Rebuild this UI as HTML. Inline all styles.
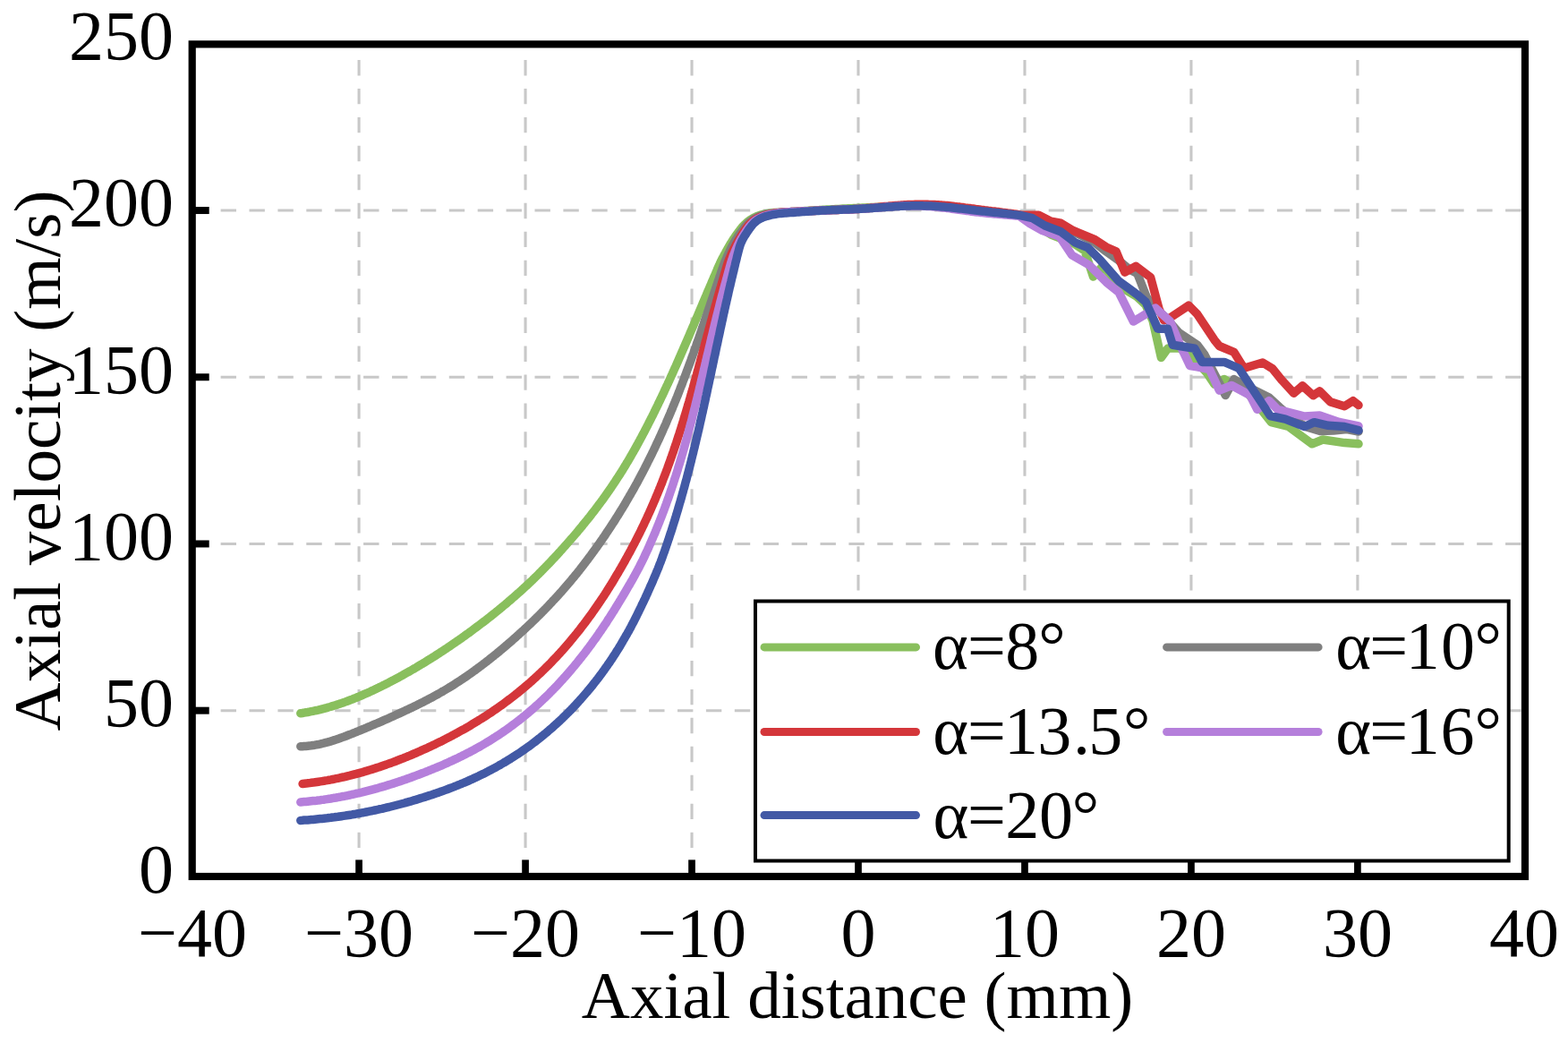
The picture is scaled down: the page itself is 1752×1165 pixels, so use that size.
<!DOCTYPE html>
<html><head><meta charset="utf-8"><title>Axial velocity vs axial distance</title>
<style>html,body{margin:0;padding:0;background:#fff;}svg{display:block;}</style>
</head><body>
<svg width="1752" height="1165" viewBox="0 0 1752 1165">
<rect width="100%" height="100%" fill="#fff"/>
<line x1="401.09" y1="979.0" x2="401.09" y2="49.4" stroke="#c8c8c8" stroke-width="3.1" stroke-dasharray="17.4 14.55"/>
<line x1="587.06" y1="979.0" x2="587.06" y2="49.4" stroke="#c8c8c8" stroke-width="3.1" stroke-dasharray="17.4 14.55"/>
<line x1="773.03" y1="979.0" x2="773.03" y2="49.4" stroke="#c8c8c8" stroke-width="3.1" stroke-dasharray="17.4 14.55"/>
<line x1="959.00" y1="979.0" x2="959.00" y2="49.4" stroke="#c8c8c8" stroke-width="3.1" stroke-dasharray="17.4 14.55"/>
<line x1="1144.97" y1="979.0" x2="1144.97" y2="49.4" stroke="#c8c8c8" stroke-width="3.1" stroke-dasharray="17.4 14.55"/>
<line x1="1330.94" y1="979.0" x2="1330.94" y2="49.4" stroke="#c8c8c8" stroke-width="3.1" stroke-dasharray="17.4 14.55"/>
<line x1="1516.91" y1="979.0" x2="1516.91" y2="49.4" stroke="#c8c8c8" stroke-width="3.1" stroke-dasharray="17.4 14.55"/>
<line x1="214.7" y1="793.68" x2="1704.0" y2="793.68" stroke="#c8c8c8" stroke-width="3.1" stroke-dasharray="17.4 14.5"/>
<line x1="214.7" y1="607.47" x2="1704.0" y2="607.47" stroke="#c8c8c8" stroke-width="3.1" stroke-dasharray="17.4 14.5"/>
<line x1="214.7" y1="421.25" x2="1704.0" y2="421.25" stroke="#c8c8c8" stroke-width="3.1" stroke-dasharray="17.4 14.5"/>
<line x1="214.7" y1="235.04" x2="1704.0" y2="235.04" stroke="#c8c8c8" stroke-width="3.1" stroke-dasharray="17.4 14.5"/>
<g fill="none" stroke-width="9.5" stroke-linecap="round" stroke-linejoin="round">
<path d="M335.8 796.8 L337.8 796.5 L339.7 796.1 L341.7 795.8 L343.7 795.5 L345.7 795.1 L347.6 794.7 L349.6 794.3 L351.5 793.9 L353.5 793.5 L355.4 793.1 L357.4 792.6 L359.3 792.1 L361.3 791.6 L363.2 791.1 L365.1 790.6 L367.0 790.0 L369.0 789.5 L370.9 788.9 L372.8 788.3 L374.7 787.7 L376.6 787.1 L378.5 786.5 L380.4 785.9 L382.3 785.2 L384.2 784.6 L386.1 783.9 L387.9 783.2 L389.8 782.5 L391.7 781.8 L393.6 781.1 L395.4 780.3 L397.3 779.6 L399.1 778.8 L401.0 778.1 L402.8 777.3 L404.7 776.5 L406.5 775.7 L408.3 774.9 L410.2 774.1 L412.0 773.3 L413.8 772.5 L415.6 771.6 L417.4 770.8 L419.2 769.9 L421.0 769.1 L422.8 768.2 L424.6 767.3 L426.4 766.5 L428.2 765.6 L430.0 764.7 L431.8 763.8 L433.6 762.9 L435.4 761.9 L437.1 761.0 L438.9 760.1 L440.7 759.1 L442.4 758.2 L444.2 757.3 L445.9 756.3 L447.7 755.3 L449.5 754.4 L451.2 753.4 L452.9 752.4 L454.7 751.4 L456.4 750.5 L458.2 749.5 L459.9 748.5 L461.6 747.5 L463.4 746.5 L465.1 745.5 L466.8 744.4 L468.5 743.4 L470.2 742.4 L472.0 741.4 L473.7 740.3 L475.4 739.3 L477.1 738.2 L478.8 737.2 L480.5 736.1 L482.2 735.1 L483.9 734.0 L485.6 732.9 L487.2 731.9 L488.9 730.8 L490.6 729.7 L492.3 728.6 L494.0 727.5 L495.6 726.4 L497.3 725.3 L499.0 724.2 L500.6 723.1 L502.3 722.0 L503.9 720.9 L505.6 719.7 L507.2 718.6 L508.9 717.5 L510.5 716.3 L512.2 715.2 L513.8 714.0 L515.5 712.9 L517.1 711.7 L518.7 710.6 L520.3 709.4 L522.0 708.2 L523.6 707.1 L525.2 705.9 L526.8 704.7 L528.4 703.5 L530.0 702.3 L531.6 701.1 L533.2 699.9 L534.8 698.7 L536.4 697.5 L538.0 696.3 L539.6 695.1 L541.2 693.9 L542.8 692.7 L544.4 691.4 L545.9 690.2 L547.5 689.0 L549.1 687.7 L550.6 686.5 L552.2 685.2 L553.8 684.0 L555.3 682.7 L556.9 681.5 L558.4 680.2 L560.0 678.9 L561.5 677.6 L563.0 676.4 L564.6 675.1 L566.1 673.8 L567.6 672.5 L569.1 671.2 L570.6 670.0 L572.0 668.7 L573.4 667.5 L574.8 666.3 L576.2 665.1 L577.5 663.9 L578.9 662.7 L580.3 661.5 L581.7 660.2 L583.1 658.9 L584.6 657.6 L586.0 656.3 L587.5 654.9 L589.0 653.6 L590.4 652.2 L591.9 650.8 L593.3 649.5 L594.8 648.1 L596.2 646.7 L597.6 645.3 L599.1 643.9 L600.5 642.5 L601.9 641.1 L603.3 639.7 L604.7 638.3 L606.1 636.8 L607.5 635.4 L608.9 634.0 L610.3 632.5 L611.7 631.1 L613.1 629.7 L614.5 628.2 L615.9 626.7 L617.2 625.3 L618.6 623.8 L620.0 622.4 L621.3 620.9 L622.7 619.4 L624.0 618.0 L625.4 616.5 L626.7 615.0 L628.1 613.5 L629.4 612.0 L630.7 610.5 L632.1 609.0 L633.4 607.5 L634.7 606.0 L636.0 604.5 L637.3 603.0 L638.7 601.5 L640.0 600.0 L641.3 598.5 L642.6 597.0 L643.9 595.5 L645.2 593.9 L646.4 592.4 L647.7 590.9 L649.0 589.3 L650.3 587.8 L651.5 586.2 L652.8 584.7 L654.1 583.1 L655.3 581.6 L656.6 580.0 L657.8 578.5 L659.1 576.9 L660.3 575.3 L661.5 573.7 L662.8 572.2 L664.0 570.6 L665.2 569.0 L666.4 567.4 L667.6 565.8 L668.8 564.2 L670.0 562.6 L671.2 561.0 L672.4 559.4 L673.6 557.8 L674.7 556.2 L675.9 554.5 L677.1 552.9 L678.2 551.3 L679.4 549.6 L680.5 548.0 L681.7 546.3 L682.8 544.7 L683.9 543.0 L685.0 541.4 L686.1 539.7 L687.2 538.1 L688.3 536.4 L689.4 534.7 L690.5 533.0 L691.6 531.3 L692.7 529.7 L693.7 528.0 L694.8 526.3 L695.9 524.6 L696.9 522.9 L698.0 521.2 L699.0 519.5 L700.0 517.7 L701.1 516.0 L702.1 514.3 L703.1 512.6 L704.1 510.9 L705.1 509.1 L706.1 507.4 L707.1 505.7 L708.1 503.9 L709.1 502.2 L710.1 500.4 L711.0 498.7 L712.0 496.9 L713.0 495.2 L713.9 493.4 L714.9 491.7 L715.8 489.9 L716.8 488.2 L717.7 486.4 L718.6 484.6 L719.6 482.9 L720.5 481.1 L721.4 479.3 L722.4 477.5 L723.3 475.8 L724.2 474.0 L725.1 472.2 L726.0 470.4 L726.9 468.6 L727.8 466.8 L728.7 465.1 L729.6 463.3 L730.5 461.5 L731.4 459.7 L732.2 457.9 L733.1 456.1 L734.0 454.3 L734.9 452.5 L735.7 450.7 L736.6 448.9 L737.5 447.1 L738.3 445.3 L739.2 443.5 L740.1 441.7 L740.9 439.9 L741.8 438.1 L742.6 436.2 L743.5 434.4 L744.3 432.6 L745.1 430.8 L746.0 429.0 L746.8 427.2 L747.7 425.4 L748.5 423.5 L749.3 421.7 L750.1 419.9 L751.0 418.1 L751.8 416.3 L752.6 414.4 L753.4 412.6 L754.2 410.8 L755.1 409.0 L755.9 407.1 L756.7 405.3 L757.5 403.5 L758.3 401.6 L759.1 399.8 L759.9 398.0 L760.7 396.1 L761.5 394.3 L762.3 392.5 L763.1 390.6 L763.9 388.8 L764.7 387.0 L765.5 385.1 L766.3 383.3 L767.1 381.5 L767.9 379.6 L768.7 377.8 L769.5 376.0 L770.3 374.1 L771.0 372.3 L771.8 370.4 L772.6 368.6 L773.4 366.8 L774.2 364.9 L775.0 363.1 L775.8 361.2 L776.5 359.4 L777.3 357.6 L778.1 355.7 L778.9 353.9 L779.7 352.0 L780.5 350.2 L781.2 348.4 L782.0 346.5 L782.8 344.7 L783.6 342.8 L784.4 341.0 L785.1 339.2 L785.9 337.3 L786.7 335.5 L787.5 333.6 L788.3 331.8 L789.1 330.0 L789.8 328.1 L790.6 326.3 L791.4 324.4 L792.2 322.6 L793.0 320.8 L793.8 318.9 L794.6 317.1 L795.3 315.2 L796.1 313.4 L796.9 311.6 L797.7 309.7 L798.5 307.9 L799.3 306.1 L800.1 304.2 L800.9 302.4 L801.6 300.5 L802.4 298.7 L803.2 296.9 L804.1 295.0 L804.9 293.2 L805.8 291.4 L806.6 289.6 L807.5 287.8 L808.5 286.1 L809.4 284.3 L810.4 282.6 L811.3 280.8 L812.3 279.1 L813.3 277.3 L814.3 275.6 L815.3 273.9 L816.3 272.2 L817.4 270.5 L818.4 268.8 L819.5 267.1 L820.7 265.4 L821.8 263.8 L822.9 262.2 L824.1 260.5 L825.3 258.9 L826.5 257.3 L827.7 255.7 L828.9 254.2 L830.2 252.7 L831.6 251.2 L833.0 249.9 L834.5 248.5 L836.0 247.3 L837.6 246.1 L839.3 245.0 L840.9 244.0 L842.7 243.1 L844.5 242.2 L846.3 241.4 L848.1 240.7 L850.0 240.1 L851.9 239.6 L853.8 239.1 L855.8 238.8 L857.8 238.5 L859.7 238.2 L861.7 238.0 L863.7 237.8 L865.7 237.6 L867.7 237.5 L869.7 237.4 L871.7 237.2 L873.7 237.1 L875.7 237.0 L877.7 236.9 L879.7 236.8 L881.7 236.7 L883.7 236.6 L885.7 236.4 L887.7 236.3 L889.7 236.2 L891.7 236.1 L893.7 235.9 L895.7 235.8 L897.6 235.7 L899.6 235.5 L901.6 235.4 L903.6 235.3 L905.6 235.2 L907.6 235.0 L909.6 234.9 L911.6 234.8 L913.6 234.7 L915.6 234.6 L917.6 234.4 L919.6 234.3 L921.6 234.2 L923.6 234.1 L925.6 234.0 L927.6 233.9 L929.6 233.8 L931.6 233.7 L933.6 233.6 L935.6 233.5 L937.6 233.4 L939.6 233.2 L941.6 233.1 L943.6 233.0 L945.6 232.9 L947.6 232.8 L949.6 232.7 L951.6 232.7 L953.6 232.6 L955.6 232.5 L957.6 232.4 L959.6 232.3 L961.6 232.2 L963.5 232.1 L965.5 232.0 L967.5 231.9 L969.5 231.8 L971.5 231.7 L973.5 231.6 L975.5 231.5 L977.5 231.5 L979.5 231.4 L981.5 231.3 L983.5 231.2 L985.5 231.1 L987.5 231.0 L989.5 230.9 L991.5 230.8 L993.5 230.7 L995.5 230.7 L997.5 230.6 L999.5 230.5 L1001.5 230.4 L1003.5 230.3 L1005.5 230.2 L1007.5 230.1 L1009.5 230.0 L1011.5 230.0 L1013.5 229.9 L1015.5 229.9 L1017.5 229.8 L1019.5 229.8 L1021.5 229.8 L1023.5 229.8 L1025.5 229.8 L1027.5 229.8 L1029.5 229.9 L1031.5 229.9 L1033.5 229.9 L1035.5 230.0 L1037.5 230.0 L1039.5 230.1 L1041.5 230.2 L1043.5 230.3 L1045.5 230.4 L1047.5 230.5 L1049.5 230.6 L1051.5 230.8 L1053.5 230.9 L1055.5 231.1 L1057.4 231.3 L1059.4 231.5 L1061.4 231.7 L1063.4 231.9 L1065.4 232.1 L1067.4 232.3 L1069.4 232.6 L1071.4 232.8 L1073.4 233.0 L1075.3 233.2 L1077.3 233.5 L1079.3 233.7 L1081.3 233.9 L1083.3 234.2 L1085.3 234.4 L1087.3 234.6 L1089.2 234.9 L1091.2 235.1 L1093.2 235.3 L1095.2 235.6 L1097.2 235.8 L1099.2 236.0 L1101.2 236.2 L1103.2 236.4 L1105.1 236.7 L1107.1 236.9 L1109.1 237.1 L1111.1 237.3 L1113.1 237.5 L1115.1 237.7 L1117.1 237.9 L1119.1 238.1 L1121.1 238.3 L1123.0 238.6 L1125.0 238.8 L1127.0 239.0 L1129.0 239.2 L1131.0 239.5 L1133.0 239.7 L1135.0 239.9 L1137.0 240.1 L1138.9 240.4 L1174.3 262.0 L1200.0 272.0 L1212.0 280.0 L1221.5 309.0 L1232.0 297.5 L1250.0 316.5 L1257.0 323.5 L1270.5 331.5 L1280.0 340.5 L1288.0 358.0 L1297.4 399.4 L1305.0 389.0 L1318.0 389.0 L1332.0 398.0 L1348.7 416.8 L1356.9 429.1 L1367.9 423.6 L1395.0 440.0 L1412.0 460.9 L1420.4 471.7 L1439.7 476.5 L1466.1 495.8 L1478.1 491.0 L1502.2 494.6 L1518.0 495.8" stroke="#89bf5d"/>
<path d="M335.8 833.8 L337.8 833.7 L339.8 833.5 L341.8 833.4 L343.8 833.2 L345.8 833.0 L347.7 832.8 L349.7 832.5 L351.7 832.2 L353.7 831.8 L355.6 831.5 L357.6 831.1 L359.5 830.6 L361.5 830.2 L363.4 829.7 L365.3 829.2 L367.3 828.6 L369.2 828.1 L371.1 827.5 L373.0 826.9 L374.9 826.3 L376.8 825.6 L378.7 825.0 L380.6 824.3 L382.5 823.6 L384.3 823.0 L386.2 822.3 L388.1 821.5 L389.9 820.8 L391.8 820.1 L393.7 819.4 L395.5 818.6 L397.4 817.9 L399.2 817.1 L401.1 816.4 L402.9 815.6 L404.8 814.8 L406.6 814.1 L408.5 813.3 L410.3 812.5 L412.2 811.8 L414.0 811.0 L415.9 810.2 L417.7 809.4 L419.5 808.6 L421.4 807.9 L423.2 807.1 L425.0 806.3 L426.9 805.5 L428.7 804.7 L430.5 803.9 L432.4 803.1 L434.2 802.3 L436.0 801.4 L437.9 800.6 L439.7 799.8 L441.5 799.0 L443.3 798.2 L445.1 797.3 L447.0 796.5 L448.8 795.7 L450.6 794.8 L452.4 794.0 L454.2 793.1 L456.0 792.3 L457.8 791.4 L459.6 790.6 L461.5 789.7 L463.3 788.8 L465.1 788.0 L466.8 787.1 L468.6 786.2 L470.4 785.3 L472.2 784.4 L474.0 783.5 L475.8 782.6 L477.6 781.7 L479.3 780.7 L481.1 779.8 L482.9 778.9 L484.6 777.9 L486.4 776.9 L488.1 776.0 L489.9 775.0 L491.6 774.0 L493.3 773.0 L495.1 772.0 L496.8 771.0 L498.5 770.0 L500.2 769.0 L502.0 767.9 L503.7 766.9 L505.4 765.8 L507.1 764.8 L508.7 763.7 L510.4 762.6 L512.1 761.5 L513.8 760.4 L515.4 759.3 L517.1 758.2 L518.8 757.1 L520.4 756.0 L522.1 754.8 L523.7 753.7 L525.3 752.6 L527.0 751.4 L528.6 750.2 L530.2 749.1 L531.8 747.9 L533.4 746.7 L535.1 745.5 L536.7 744.3 L538.3 743.1 L539.8 741.9 L541.4 740.7 L543.0 739.5 L544.6 738.2 L546.2 737.0 L547.7 735.8 L549.3 734.5 L550.9 733.3 L552.4 732.0 L554.0 730.8 L555.5 729.5 L557.1 728.2 L558.6 727.0 L560.1 725.7 L561.7 724.4 L563.2 723.1 L564.7 721.8 L566.3 720.5 L567.8 719.2 L569.3 717.9 L570.8 716.6 L572.3 715.3 L573.8 713.9 L575.3 712.6 L576.8 711.3 L578.3 709.9 L579.8 708.6 L581.2 707.3 L582.7 705.9 L584.2 704.6 L585.7 703.2 L587.1 701.8 L588.6 700.5 L590.0 699.1 L591.5 697.7 L592.9 696.4 L594.4 695.0 L595.8 693.6 L597.3 692.2 L598.7 690.8 L600.1 689.4 L601.6 688.0 L603.0 686.6 L604.4 685.2 L605.8 683.7 L607.2 682.3 L608.6 680.9 L610.0 679.5 L611.4 678.0 L612.8 676.6 L614.1 675.1 L615.5 673.7 L616.9 672.2 L618.2 670.7 L619.6 669.3 L621.0 667.8 L622.3 666.3 L623.7 664.9 L625.0 663.4 L626.3 661.9 L627.7 660.4 L629.0 658.9 L630.3 657.4 L631.6 655.9 L632.9 654.4 L634.2 652.9 L635.5 651.3 L636.8 649.8 L638.1 648.3 L639.4 646.7 L640.7 645.2 L641.9 643.7 L643.2 642.1 L644.5 640.6 L645.7 639.0 L647.0 637.4 L648.2 635.9 L649.4 634.3 L650.7 632.7 L651.9 631.1 L653.1 629.5 L654.3 628.0 L655.5 626.4 L656.7 624.8 L657.9 623.2 L659.1 621.6 L660.3 620.0 L661.5 618.3 L662.7 616.7 L663.9 615.1 L665.0 613.5 L666.2 611.9 L667.4 610.2 L668.5 608.6 L669.7 607.0 L670.8 605.3 L672.0 603.7 L673.1 602.1 L674.2 600.4 L675.4 598.8 L676.5 597.1 L677.6 595.4 L678.7 593.8 L679.8 592.1 L680.9 590.5 L682.0 588.8 L683.1 587.1 L684.2 585.4 L685.3 583.8 L686.4 582.1 L687.5 580.4 L688.5 578.7 L689.6 577.0 L690.7 575.3 L691.7 573.6 L692.8 571.9 L693.8 570.2 L694.9 568.5 L695.9 566.8 L696.9 565.1 L698.0 563.4 L699.0 561.6 L700.0 559.9 L701.0 558.2 L702.0 556.5 L703.0 554.7 L704.0 553.0 L705.0 551.3 L706.0 549.5 L707.0 547.8 L708.0 546.1 L709.0 544.3 L709.9 542.6 L710.9 540.8 L711.9 539.1 L712.8 537.3 L713.8 535.5 L714.7 533.8 L715.7 532.0 L716.6 530.2 L717.5 528.5 L718.5 526.7 L719.4 524.9 L720.3 523.2 L721.2 521.4 L722.1 519.6 L723.0 517.8 L723.9 516.0 L724.8 514.2 L725.7 512.5 L726.6 510.7 L727.5 508.9 L728.4 507.1 L729.2 505.3 L730.1 503.5 L731.0 501.7 L731.8 499.9 L732.7 498.1 L733.5 496.2 L734.4 494.4 L735.2 492.6 L736.1 490.8 L736.9 489.0 L737.7 487.2 L738.6 485.3 L739.4 483.5 L740.2 481.7 L741.0 479.9 L741.8 478.0 L742.7 476.2 L743.5 474.4 L744.3 472.6 L745.0 470.7 L745.8 468.9 L746.6 467.0 L747.4 465.2 L748.2 463.4 L749.0 461.5 L749.7 459.7 L750.5 457.8 L751.3 456.0 L752.0 454.1 L752.8 452.3 L753.6 450.4 L754.3 448.6 L755.1 446.7 L755.8 444.9 L756.6 443.0 L757.3 441.2 L758.0 439.3 L758.8 437.4 L759.5 435.6 L760.2 433.7 L760.9 431.8 L761.7 430.0 L762.4 428.1 L763.1 426.2 L763.8 424.4 L764.5 422.5 L765.2 420.6 L765.9 418.8 L766.6 416.9 L767.3 415.0 L768.0 413.1 L768.7 411.3 L769.4 409.4 L770.1 407.5 L770.8 405.6 L771.5 403.8 L772.2 401.9 L772.8 400.0 L773.5 398.1 L774.2 396.2 L774.9 394.4 L775.5 392.5 L776.2 390.6 L776.9 388.7 L777.6 386.8 L778.2 384.9 L778.9 383.0 L779.5 381.2 L780.2 379.3 L780.9 377.4 L781.5 375.5 L782.2 373.6 L782.8 371.7 L783.5 369.8 L784.1 367.9 L784.8 366.0 L785.4 364.1 L786.1 362.3 L786.7 360.4 L787.4 358.5 L788.0 356.6 L788.7 354.7 L789.3 352.8 L790.0 350.9 L790.6 349.0 L791.2 347.1 L791.9 345.2 L792.5 343.3 L793.2 341.4 L793.8 339.5 L794.4 337.6 L795.1 335.7 L795.7 333.8 L796.4 331.9 L797.0 330.1 L797.6 328.2 L798.3 326.3 L798.9 324.4 L799.6 322.5 L800.2 320.6 L800.8 318.7 L801.5 316.8 L802.1 314.9 L802.8 313.0 L803.4 311.1 L804.0 309.2 L804.7 307.3 L805.3 305.4 L806.0 303.5 L806.6 301.6 L807.3 299.7 L807.9 297.9 L808.6 296.0 L809.3 294.1 L810.0 292.2 L810.8 290.4 L811.6 288.6 L812.4 286.7 L813.2 284.9 L814.0 283.1 L814.9 281.3 L815.7 279.5 L816.6 277.7 L817.5 275.9 L818.5 274.1 L819.4 272.4 L820.4 270.6 L821.4 268.9 L822.5 267.2 L823.6 265.6 L824.7 263.9 L825.8 262.3 L827.0 260.6 L828.1 259.0 L829.3 257.4 L830.5 255.8 L831.7 254.2 L832.9 252.6 L834.2 251.2 L835.6 249.8 L837.0 248.4 L838.6 247.2 L840.2 246.0 L841.8 244.9 L843.5 243.9 L845.3 243.0 L847.1 242.2 L848.9 241.5 L850.8 240.8 L852.7 240.2 L854.6 239.7 L856.5 239.2 L858.5 238.8 L860.4 238.5 L862.4 238.2 L864.4 237.9 L866.4 237.7 L868.4 237.5 L870.4 237.4 L872.4 237.2 L874.4 237.1 L876.4 237.0 L878.3 236.9 L880.3 236.8 L882.3 236.7 L884.3 236.6 L886.3 236.5 L888.3 236.4 L890.3 236.3 L892.3 236.2 L894.3 236.1 L896.3 236.0 L898.3 235.9 L900.3 235.9 L902.3 235.8 L904.3 235.7 L906.3 235.6 L908.3 235.5 L910.3 235.4 L912.3 235.3 L914.3 235.2 L916.3 235.2 L918.3 235.1 L920.3 235.0 L922.3 234.9 L924.3 234.8 L926.3 234.8 L928.3 234.7 L930.3 234.6 L932.3 234.5 L934.3 234.5 L936.3 234.4 L938.3 234.3 L940.3 234.2 L942.3 234.2 L944.3 234.1 L946.3 234.0 L948.3 233.9 L950.3 233.8 L952.3 233.8 L954.3 233.7 L956.3 233.6 L958.3 233.5 L960.3 233.3 L962.3 233.2 L964.3 233.1 L966.3 233.0 L968.3 232.8 L970.3 232.7 L972.2 232.6 L974.2 232.4 L976.2 232.3 L978.2 232.1 L980.2 232.0 L982.2 231.8 L984.2 231.7 L986.2 231.6 L988.2 231.4 L990.2 231.3 L992.2 231.2 L994.2 231.0 L996.2 230.9 L998.2 230.8 L1000.2 230.6 L1002.2 230.5 L1004.2 230.4 L1006.2 230.3 L1008.2 230.2 L1010.2 230.1 L1012.2 230.0 L1014.2 229.9 L1016.2 229.9 L1018.2 229.8 L1020.2 229.8 L1022.2 229.8 L1024.2 229.8 L1026.2 229.8 L1028.2 229.8 L1030.2 229.8 L1032.2 229.9 L1034.2 229.9 L1036.2 230.0 L1038.2 230.0 L1040.1 230.1 L1042.1 230.2 L1044.1 230.3 L1046.1 230.4 L1048.1 230.5 L1050.1 230.7 L1052.1 230.8 L1054.1 231.0 L1056.1 231.2 L1058.1 231.4 L1060.1 231.6 L1062.1 231.8 L1064.1 232.0 L1066.1 232.2 L1068.0 232.4 L1070.0 232.6 L1072.0 232.9 L1074.0 233.1 L1076.0 233.3 L1078.0 233.5 L1080.0 233.8 L1082.0 234.0 L1083.9 234.2 L1085.9 234.5 L1087.9 234.7 L1089.9 235.0 L1091.9 235.2 L1093.9 235.4 L1095.9 235.6 L1097.8 235.9 L1099.8 236.1 L1101.8 236.3 L1103.8 236.5 L1105.8 236.7 L1107.8 236.9 L1109.8 237.1 L1111.8 237.3 L1113.8 237.6 L1115.7 237.8 L1117.7 238.0 L1119.7 238.2 L1121.7 238.4 L1123.7 238.6 L1125.7 238.8 L1127.7 239.1 L1129.7 239.3 L1131.6 239.5 L1133.6 239.8 L1135.6 240.0 L1137.6 240.2 L1139.6 240.5 L1174.0 248.5 L1200.0 259.0 L1222.0 270.0 L1236.0 281.0 L1250.0 291.0 L1262.0 301.0 L1270.8 305.5 L1281.0 331.6 L1290.0 343.0 L1301.7 354.0 L1317.1 371.4 L1337.7 385.2 L1345.9 396.2 L1369.3 441.5 L1378.9 423.6 L1400.0 435.0 L1418.0 444.1 L1430.0 455.0 L1445.0 468.0 L1460.0 477.0 L1475.0 481.5 L1490.0 481.0 L1505.0 479.5 L1518.0 482.0" stroke="#7f7f7f"/>
<path d="M338.1 875.5 L340.1 875.3 L342.1 875.1 L344.1 874.8 L346.0 874.6 L348.0 874.3 L350.0 874.1 L352.0 873.8 L354.0 873.5 L355.9 873.2 L357.9 872.9 L359.9 872.6 L361.9 872.3 L363.8 871.9 L365.8 871.6 L367.8 871.2 L369.7 870.9 L371.7 870.5 L373.7 870.1 L375.6 869.7 L377.6 869.3 L379.5 868.9 L381.5 868.4 L383.4 868.0 L385.4 867.6 L387.3 867.1 L389.3 866.6 L391.2 866.2 L393.2 865.7 L395.1 865.2 L397.0 864.7 L399.0 864.1 L400.9 863.6 L402.8 863.1 L404.8 862.6 L406.7 862.0 L408.6 861.4 L410.5 860.9 L412.4 860.3 L414.3 859.7 L416.3 859.1 L418.2 858.5 L420.1 857.9 L422.0 857.3 L423.9 856.7 L425.8 856.0 L427.7 855.4 L429.5 854.7 L431.4 854.1 L433.3 853.4 L435.2 852.7 L437.1 852.1 L439.0 851.4 L440.8 850.7 L442.7 850.0 L444.6 849.2 L446.4 848.5 L448.3 847.8 L450.2 847.1 L452.0 846.3 L453.9 845.6 L455.7 844.8 L457.6 844.1 L459.4 843.3 L461.3 842.5 L463.1 841.7 L464.9 841.0 L466.8 840.2 L468.6 839.4 L470.4 838.5 L472.3 837.7 L474.1 836.9 L475.9 836.1 L477.7 835.3 L479.6 834.4 L481.4 833.6 L483.2 832.7 L485.0 831.9 L486.8 831.0 L488.6 830.1 L490.4 829.2 L492.2 828.4 L494.0 827.5 L495.7 826.6 L497.5 825.7 L499.3 824.7 L501.1 823.8 L502.9 822.9 L504.6 822.0 L506.4 821.0 L508.2 820.1 L509.9 819.1 L511.7 818.2 L513.4 817.2 L515.2 816.2 L516.9 815.3 L518.7 814.3 L520.4 813.3 L522.1 812.3 L523.9 811.3 L525.6 810.3 L527.3 809.2 L529.0 808.2 L530.7 807.2 L532.4 806.1 L534.1 805.1 L535.8 804.0 L537.5 803.0 L539.2 801.9 L540.9 800.8 L542.6 799.8 L544.3 798.7 L545.9 797.6 L547.6 796.5 L549.3 795.4 L550.9 794.2 L552.6 793.1 L554.2 792.0 L555.9 790.8 L557.5 789.7 L559.1 788.5 L560.8 787.4 L562.4 786.2 L564.0 785.0 L565.6 783.8 L567.2 782.6 L568.8 781.4 L570.4 780.2 L572.0 779.0 L573.6 777.8 L575.1 776.6 L576.7 775.3 L578.3 774.1 L579.8 772.8 L581.4 771.5 L582.9 770.3 L584.5 769.0 L586.0 767.7 L587.5 766.4 L589.0 765.1 L590.6 763.8 L592.1 762.5 L593.6 761.2 L595.1 759.8 L596.5 758.5 L598.0 757.2 L599.5 755.8 L601.0 754.4 L602.4 753.1 L603.9 751.7 L605.3 750.3 L606.8 748.9 L608.2 747.5 L609.6 746.1 L611.0 744.7 L612.5 743.3 L613.9 741.9 L615.3 740.5 L616.7 739.0 L618.0 737.6 L619.4 736.1 L620.8 734.7 L622.2 733.2 L623.5 731.8 L624.9 730.3 L626.2 728.8 L627.6 727.3 L628.9 725.8 L630.2 724.3 L631.5 722.8 L632.8 721.3 L634.1 719.8 L635.4 718.3 L636.7 716.8 L638.0 715.2 L639.3 713.7 L640.6 712.1 L641.8 710.6 L643.1 709.0 L644.4 707.5 L645.6 705.9 L646.9 704.4 L648.1 702.8 L649.3 701.2 L650.5 699.6 L651.8 698.0 L653.0 696.4 L654.2 694.8 L655.4 693.2 L656.6 691.6 L657.7 690.0 L658.9 688.4 L660.1 686.8 L661.3 685.2 L662.4 683.5 L663.6 681.9 L664.7 680.3 L665.9 678.6 L667.0 677.0 L668.1 675.3 L669.2 673.7 L670.3 672.1 L671.4 670.5 L672.5 668.8 L673.6 667.3 L674.6 665.7 L675.7 664.1 L676.7 662.5 L677.7 660.9 L678.8 659.2 L679.8 657.6 L680.9 655.9 L681.9 654.2 L683.0 652.5 L684.0 650.8 L685.1 649.1 L686.1 647.4 L687.1 645.6 L688.1 643.9 L689.2 642.2 L690.2 640.5 L691.2 638.8 L692.2 637.0 L693.2 635.3 L694.2 633.6 L695.2 631.8 L696.2 630.1 L697.2 628.4 L698.2 626.6 L699.1 624.9 L700.1 623.1 L701.1 621.4 L702.0 619.6 L703.0 617.9 L704.0 616.1 L704.9 614.4 L705.8 612.6 L706.8 610.8 L707.7 609.1 L708.7 607.3 L709.6 605.5 L710.5 603.7 L711.4 602.0 L712.3 600.2 L713.2 598.4 L714.1 596.6 L715.0 594.8 L715.9 593.0 L716.8 591.2 L717.6 589.4 L718.5 587.6 L719.4 585.8 L720.2 584.0 L721.1 582.2 L721.9 580.4 L722.8 578.6 L723.6 576.8 L724.4 574.9 L725.3 573.1 L726.1 571.3 L726.9 569.5 L727.7 567.6 L728.5 565.8 L729.3 564.0 L730.1 562.1 L730.9 560.3 L731.7 558.5 L732.5 556.6 L733.2 554.8 L734.0 552.9 L734.8 551.1 L735.5 549.2 L736.3 547.4 L737.0 545.5 L737.8 543.7 L738.5 541.8 L739.3 540.0 L740.0 538.1 L740.7 536.2 L741.4 534.4 L742.1 532.5 L742.9 530.6 L743.6 528.8 L744.3 526.9 L745.0 525.0 L745.7 523.1 L746.3 521.3 L747.0 519.4 L747.7 517.5 L748.4 515.6 L749.1 513.7 L749.7 511.8 L750.4 510.0 L751.0 508.1 L751.7 506.2 L752.4 504.3 L753.0 502.4 L753.6 500.5 L754.3 498.6 L754.9 496.7 L755.6 494.8 L756.2 492.9 L756.8 491.0 L757.4 489.1 L758.0 487.2 L758.7 485.3 L759.3 483.4 L759.9 481.5 L760.5 479.6 L761.1 477.7 L761.7 475.8 L762.3 473.9 L762.9 472.0 L763.5 470.0 L764.0 468.1 L764.6 466.2 L765.2 464.3 L765.8 462.4 L766.4 460.5 L766.9 458.6 L767.5 456.6 L768.1 454.7 L768.6 452.8 L769.2 450.9 L769.8 449.0 L770.3 447.0 L770.9 445.1 L771.4 443.2 L772.0 441.3 L772.5 439.4 L773.1 437.4 L773.6 435.5 L774.2 433.6 L774.7 431.7 L775.3 429.7 L775.8 427.8 L776.3 425.9 L776.9 424.0 L777.4 422.0 L777.9 420.1 L778.5 418.2 L779.0 416.2 L779.5 414.3 L780.1 412.4 L780.6 410.5 L781.1 408.5 L781.6 406.6 L782.2 404.7 L782.7 402.7 L783.2 400.8 L783.7 398.9 L784.3 397.0 L784.8 395.0 L785.3 393.1 L785.8 391.2 L786.4 389.2 L786.9 387.3 L787.4 385.4 L787.9 383.4 L788.4 381.5 L789.0 379.6 L789.5 377.6 L790.0 375.7 L790.5 373.8 L791.1 371.9 L791.6 369.9 L792.1 368.0 L792.6 366.1 L793.2 364.1 L793.7 362.2 L794.2 360.3 L794.7 358.3 L795.3 356.4 L795.8 354.5 L796.3 352.6 L796.9 350.6 L797.4 348.7 L797.9 346.8 L798.5 344.8 L799.0 342.9 L799.5 341.0 L800.1 339.1 L800.6 337.1 L801.1 335.2 L801.7 333.3 L802.2 331.4 L802.8 329.4 L803.3 327.5 L803.9 325.6 L804.4 323.7 L805.0 321.8 L805.6 319.8 L806.1 317.9 L806.7 316.0 L807.2 314.1 L807.8 312.2 L808.4 310.2 L808.9 308.3 L809.5 306.4 L810.0 304.5 L810.6 302.6 L811.1 300.6 L811.7 298.7 L812.3 296.8 L812.8 294.9 L813.5 293.0 L814.1 291.1 L814.9 289.3 L815.6 287.4 L816.4 285.6 L817.2 283.7 L818.0 281.9 L818.9 280.1 L819.8 278.3 L820.7 276.6 L821.6 274.8 L822.5 273.0 L823.5 271.3 L824.5 269.5 L825.5 267.8 L826.5 266.1 L827.6 264.4 L828.7 262.7 L829.7 261.0 L830.8 259.4 L831.9 257.7 L833.1 256.1 L834.2 254.4 L835.4 252.9 L836.7 251.3 L838.0 249.9 L839.4 248.6 L841.0 247.3 L842.5 246.2 L844.2 245.1 L845.9 244.1 L847.7 243.2 L849.5 242.4 L851.3 241.7 L853.2 241.1 L855.1 240.5 L857.0 239.9 L859.0 239.4 L860.9 239.0 L862.9 238.6 L864.8 238.3 L866.8 238.0 L868.8 237.7 L870.8 237.5 L872.8 237.3 L874.8 237.2 L876.8 237.0 L878.7 236.9 L880.7 236.8 L882.7 236.7 L884.7 236.6 L886.7 236.5 L888.7 236.4 L890.7 236.3 L892.7 236.2 L894.7 236.1 L896.7 236.0 L898.7 235.9 L900.7 235.8 L902.7 235.7 L904.7 235.6 L906.7 235.6 L908.7 235.5 L910.7 235.4 L912.7 235.3 L914.7 235.2 L916.7 235.1 L918.7 235.1 L920.7 235.0 L922.7 234.9 L924.7 234.8 L926.7 234.8 L928.7 234.7 L930.7 234.6 L932.7 234.5 L934.7 234.5 L936.7 234.4 L938.7 234.3 L940.7 234.3 L942.7 234.2 L944.7 234.1 L946.7 234.0 L948.7 234.0 L950.7 233.9 L952.7 233.8 L954.7 233.6 L956.7 233.5 L958.7 233.4 L960.7 233.3 L962.7 233.1 L964.7 232.9 L966.6 232.8 L968.6 232.6 L970.6 232.4 L972.6 232.2 L974.6 232.0 L976.6 231.8 L978.6 231.6 L980.6 231.4 L982.6 231.2 L984.6 231.0 L986.5 230.8 L988.5 230.6 L990.5 230.4 L992.5 230.3 L994.5 230.1 L996.5 229.9 L998.5 229.7 L1000.5 229.5 L1002.5 229.4 L1004.5 229.2 L1006.5 229.1 L1008.5 228.9 L1010.5 228.8 L1012.5 228.7 L1014.5 228.6 L1016.4 228.5 L1018.4 228.4 L1020.4 228.4 L1022.4 228.3 L1024.4 228.3 L1026.4 228.3 L1028.4 228.3 L1030.4 228.3 L1032.4 228.3 L1034.4 228.3 L1036.4 228.3 L1038.4 228.4 L1040.4 228.4 L1042.4 228.5 L1044.4 228.6 L1046.4 228.7 L1048.4 228.8 L1050.4 228.9 L1052.4 229.1 L1054.4 229.2 L1056.4 229.4 L1058.4 229.6 L1060.4 229.8 L1062.4 230.0 L1064.4 230.2 L1066.3 230.5 L1068.3 230.7 L1070.3 230.9 L1072.3 231.1 L1074.3 231.4 L1076.3 231.6 L1078.3 231.9 L1080.2 232.1 L1082.2 232.4 L1084.2 232.6 L1086.2 232.9 L1088.2 233.1 L1090.2 233.4 L1092.1 233.6 L1094.1 233.9 L1096.1 234.2 L1098.1 234.4 L1100.1 234.7 L1102.1 234.9 L1104.1 235.2 L1106.0 235.4 L1108.0 235.7 L1110.0 235.9 L1112.0 236.1 L1114.0 236.4 L1116.0 236.6 L1117.9 236.9 L1119.9 237.2 L1121.9 237.4 L1123.9 237.7 L1125.9 238.0 L1127.9 238.2 L1129.8 238.5 L1131.8 238.8 L1133.8 239.1 L1135.8 239.3 L1137.8 239.6 L1139.7 239.9 L1160.6 240.3 L1174.3 247.2 L1185.3 249.2 L1199.0 257.5 L1222.4 267.1 L1236.2 276.0 L1247.1 280.8 L1256.8 304.2 L1269.1 297.3 L1285.6 309.7 L1295.1 345.3 L1300.6 357.7 L1307.5 354.9 L1328.1 341.2 L1337.7 350.8 L1356.9 379.7 L1362.4 386.5 L1378.9 393.4 L1389.9 411.3 L1410.8 405.0 L1421.6 411.6 L1432.5 424.9 L1445.7 439.3 L1455.3 430.9 L1467.3 441.7 L1474.5 436.9 L1486.5 448.9 L1502.2 453.7 L1511.8 447.7 L1518.0 452.5" stroke="#d4363a"/>
<path d="M335.8 896.0 L337.8 895.8 L339.8 895.6 L341.8 895.4 L343.8 895.2 L345.8 895.0 L347.7 894.8 L349.7 894.6 L351.7 894.4 L353.7 894.2 L355.7 893.9 L357.7 893.7 L359.7 893.4 L361.6 893.2 L363.6 892.9 L365.6 892.6 L367.6 892.3 L369.6 892.0 L371.5 891.6 L373.5 891.3 L375.5 891.0 L377.4 890.6 L379.4 890.3 L381.4 889.9 L383.3 889.5 L385.3 889.2 L387.3 888.8 L389.2 888.4 L391.2 888.0 L393.1 887.5 L395.1 887.1 L397.0 886.7 L399.0 886.2 L400.9 885.8 L402.9 885.3 L404.8 884.9 L406.8 884.4 L408.7 883.9 L410.7 883.4 L412.6 882.9 L414.5 882.4 L416.5 881.9 L418.4 881.4 L420.3 880.8 L422.2 880.3 L424.2 879.7 L426.1 879.2 L428.0 878.6 L429.9 878.1 L431.8 877.5 L433.7 876.9 L435.7 876.3 L437.6 875.7 L439.5 875.1 L441.4 874.5 L443.3 873.9 L445.2 873.2 L447.1 872.6 L449.0 872.0 L450.9 871.3 L452.8 870.7 L454.6 870.0 L456.5 869.4 L458.4 868.7 L460.3 868.0 L462.2 867.3 L464.1 866.6 L465.9 865.9 L467.8 865.2 L469.7 864.5 L471.5 863.8 L473.4 863.1 L475.3 862.4 L477.1 861.6 L479.0 860.9 L480.8 860.1 L482.7 859.4 L484.5 858.6 L486.4 857.9 L488.2 857.1 L490.1 856.3 L491.9 855.6 L493.8 854.8 L495.6 854.0 L497.4 853.2 L499.3 852.4 L501.1 851.5 L502.9 850.7 L504.7 849.9 L506.5 849.0 L508.4 848.2 L510.2 847.3 L512.0 846.5 L513.8 845.6 L515.6 844.7 L517.3 843.8 L519.1 842.9 L520.9 842.0 L522.7 841.1 L524.5 840.2 L526.2 839.3 L528.0 838.3 L529.8 837.4 L531.5 836.4 L533.3 835.4 L535.0 834.5 L536.8 833.5 L538.5 832.5 L540.2 831.5 L541.9 830.5 L543.7 829.4 L545.4 828.4 L547.1 827.4 L548.8 826.3 L550.5 825.2 L552.2 824.2 L553.8 823.1 L555.5 822.0 L557.2 820.9 L558.9 819.8 L560.5 818.7 L562.2 817.6 L563.8 816.4 L565.4 815.3 L567.1 814.1 L568.7 813.0 L570.3 811.8 L571.9 810.6 L573.5 809.4 L575.1 808.2 L576.7 807.0 L578.3 805.8 L579.9 804.6 L581.5 803.3 L583.0 802.1 L584.6 800.8 L586.1 799.6 L587.7 798.3 L589.2 797.0 L590.8 795.7 L592.3 794.4 L593.8 793.1 L595.3 791.8 L596.8 790.5 L598.3 789.2 L599.8 787.8 L601.3 786.5 L602.8 785.1 L604.2 783.8 L605.7 782.4 L607.1 781.0 L608.6 779.7 L610.0 778.3 L611.5 776.9 L612.9 775.5 L614.3 774.1 L615.7 772.6 L617.1 771.2 L618.5 769.8 L619.9 768.3 L621.3 766.9 L622.7 765.4 L624.0 764.0 L625.4 762.5 L626.7 761.1 L628.1 759.6 L629.4 758.1 L630.8 756.6 L632.1 755.1 L633.4 753.6 L634.7 752.1 L636.0 750.6 L637.3 749.1 L638.6 747.6 L639.9 746.0 L641.2 744.5 L642.5 742.9 L643.8 741.4 L645.0 739.9 L646.3 738.3 L647.5 736.7 L648.8 735.2 L650.0 733.6 L651.2 732.0 L652.5 730.4 L653.7 728.9 L654.9 727.3 L656.1 725.7 L657.3 724.1 L658.5 722.5 L659.7 720.9 L660.9 719.3 L662.1 717.6 L663.2 716.0 L664.4 714.4 L665.6 712.8 L666.7 711.1 L667.9 709.5 L669.0 707.9 L670.1 706.2 L671.3 704.6 L672.4 702.9 L673.5 701.3 L674.6 699.6 L675.7 697.9 L676.9 696.3 L678.0 694.6 L679.0 692.9 L680.1 691.2 L681.2 689.6 L682.3 687.9 L683.4 686.2 L684.4 684.5 L685.5 682.8 L686.6 681.1 L687.6 679.4 L688.7 677.7 L689.7 676.0 L690.7 674.3 L691.7 672.7 L692.7 671.0 L693.7 669.4 L694.6 667.8 L695.6 666.3 L696.5 664.8 L697.4 663.3 L698.3 661.7 L699.2 660.2 L700.1 658.6 L701.1 656.9 L702.1 655.2 L703.1 653.5 L704.1 651.8 L705.1 650.0 L706.1 648.3 L707.1 646.6 L708.0 644.8 L709.0 643.1 L710.0 641.3 L710.9 639.6 L711.9 637.8 L712.8 636.1 L713.8 634.3 L714.7 632.5 L715.6 630.7 L716.5 628.9 L717.4 627.1 L718.3 625.4 L719.1 623.6 L720.0 621.8 L720.8 619.9 L721.7 618.1 L722.5 616.3 L723.4 614.5 L724.2 612.7 L725.0 610.9 L725.8 609.0 L726.6 607.2 L727.4 605.4 L728.2 603.5 L729.0 601.7 L729.8 599.9 L730.6 598.0 L731.4 596.2 L732.2 594.3 L732.9 592.5 L733.7 590.6 L734.4 588.8 L735.2 586.9 L735.9 585.1 L736.7 583.2 L737.4 581.4 L738.1 579.5 L738.9 577.6 L739.6 575.8 L740.3 573.9 L741.0 572.0 L741.7 570.2 L742.4 568.3 L743.1 566.4 L743.8 564.5 L744.5 562.6 L745.1 560.8 L745.8 558.9 L746.5 557.0 L747.2 555.1 L747.8 553.2 L748.5 551.3 L749.1 549.4 L749.8 547.5 L750.4 545.7 L751.0 543.8 L751.7 541.9 L752.3 540.0 L752.9 538.1 L753.5 536.2 L754.1 534.3 L754.8 532.3 L755.4 530.4 L756.0 528.5 L756.6 526.6 L757.2 524.7 L757.7 522.8 L758.3 520.9 L758.9 519.0 L759.5 517.1 L760.1 515.1 L760.6 513.2 L761.2 511.3 L761.8 509.4 L762.3 507.5 L762.9 505.6 L763.4 503.6 L764.0 501.7 L764.5 499.8 L765.1 497.9 L765.6 495.9 L766.1 494.0 L766.7 492.1 L767.2 490.2 L767.7 488.2 L768.3 486.3 L768.8 484.4 L769.3 482.4 L769.8 480.5 L770.3 478.6 L770.8 476.6 L771.3 474.7 L771.8 472.8 L772.4 470.8 L772.9 468.9 L773.4 467.0 L773.8 465.0 L774.3 463.1 L774.8 461.1 L775.3 459.2 L775.8 457.3 L776.3 455.3 L776.8 453.4 L777.3 451.4 L777.7 449.5 L778.2 447.6 L778.7 445.6 L779.2 443.7 L779.7 441.7 L780.1 439.8 L780.6 437.8 L781.1 435.9 L781.5 434.0 L782.0 432.0 L782.5 430.1 L782.9 428.1 L783.4 426.2 L783.9 424.2 L784.3 422.3 L784.8 420.3 L785.3 418.4 L785.7 416.4 L786.2 414.5 L786.6 412.6 L787.1 410.6 L787.6 408.7 L788.0 406.7 L788.5 404.8 L788.9 402.8 L789.4 400.9 L789.9 398.9 L790.3 397.0 L790.8 395.0 L791.3 393.1 L791.7 391.1 L792.2 389.2 L792.6 387.3 L793.1 385.3 L793.6 383.4 L794.0 381.4 L794.5 379.5 L795.0 377.5 L795.4 375.6 L795.9 373.6 L796.4 371.7 L796.8 369.7 L797.3 367.8 L797.8 365.9 L798.2 363.9 L798.7 362.0 L799.2 360.0 L799.7 358.1 L800.1 356.1 L800.6 354.2 L801.1 352.3 L801.6 350.3 L802.1 348.4 L802.6 346.4 L803.1 344.5 L803.6 342.6 L804.0 340.6 L804.5 338.7 L805.0 336.8 L805.5 334.8 L806.0 332.9 L806.5 330.9 L807.1 329.0 L807.6 327.1 L808.1 325.1 L808.6 323.2 L809.1 321.3 L809.6 319.4 L810.2 317.4 L810.7 315.5 L811.2 313.6 L811.7 311.6 L812.3 309.7 L812.8 307.8 L813.3 305.8 L813.8 303.9 L814.4 302.0 L814.9 300.1 L815.4 298.1 L816.0 296.2 L816.5 294.3 L817.1 292.4 L817.7 290.5 L818.4 288.6 L819.0 286.7 L819.7 284.8 L820.5 283.0 L821.2 281.1 L822.0 279.3 L822.8 277.4 L823.6 275.6 L824.4 273.8 L825.3 272.0 L826.2 270.2 L827.1 268.5 L828.1 266.7 L829.2 265.0 L830.2 263.3 L831.3 261.7 L832.4 260.0 L833.5 258.3 L834.6 256.7 L835.8 255.0 L836.9 253.4 L838.2 251.9 L839.5 250.4 L840.8 249.0 L842.3 247.7 L843.8 246.5 L845.4 245.4 L847.1 244.4 L848.9 243.5 L850.7 242.7 L852.5 242.0 L854.4 241.3 L856.3 240.7 L858.2 240.2 L860.2 239.7 L862.1 239.2 L864.1 238.8 L866.0 238.5 L868.0 238.1 L870.0 237.8 L872.0 237.6 L873.9 237.4 L875.9 237.2 L877.9 237.0 L879.9 236.9 L881.9 236.7 L883.9 236.6 L885.9 236.5 L887.9 236.4 L889.9 236.3 L891.9 236.2 L893.9 236.1 L895.9 236.0 L897.9 235.9 L899.9 235.8 L901.9 235.8 L903.9 235.7 L905.9 235.6 L907.9 235.5 L909.9 235.4 L911.9 235.3 L913.9 235.3 L915.9 235.2 L917.9 235.1 L919.9 235.0 L921.9 234.9 L923.9 234.9 L925.9 234.8 L927.9 234.7 L929.9 234.6 L931.9 234.5 L933.9 234.5 L935.9 234.4 L937.9 234.3 L939.9 234.3 L941.9 234.2 L943.9 234.1 L945.9 234.0 L947.9 233.9 L949.9 233.9 L951.8 233.8 L953.8 233.7 L955.8 233.6 L957.8 233.5 L959.8 233.4 L961.8 233.3 L963.8 233.1 L965.8 233.0 L967.8 232.9 L969.8 232.7 L971.8 232.6 L973.8 232.5 L975.8 232.3 L977.8 232.2 L979.8 232.0 L981.8 231.9 L983.8 231.7 L985.8 231.6 L987.8 231.5 L989.8 231.3 L991.8 231.2 L993.8 231.0 L995.8 230.9 L997.7 230.8 L999.7 230.6 L1001.7 230.5 L1003.7 230.4 L1005.7 230.3 L1007.7 230.2 L1009.7 230.1 L1011.7 230.0 L1013.7 229.9 L1015.7 229.9 L1017.7 229.9 L1019.7 229.9 L1021.7 229.9 L1023.7 229.9 L1025.7 230.0 L1027.7 230.0 L1029.7 230.1 L1031.7 230.2 L1033.7 230.3 L1035.7 230.4 L1037.7 230.5 L1039.7 230.6 L1041.7 230.8 L1043.7 230.9 L1045.7 231.1 L1047.7 231.3 L1049.7 231.5 L1051.6 231.7 L1053.6 231.9 L1055.6 232.1 L1057.6 232.4 L1059.6 232.6 L1061.6 232.9 L1063.6 233.2 L1065.5 233.5 L1067.5 233.7 L1069.5 234.0 L1071.5 234.3 L1073.5 234.6 L1075.4 234.8 L1077.4 235.1 L1079.4 235.4 L1081.4 235.6 L1083.4 235.9 L1085.3 236.2 L1087.3 236.4 L1089.3 236.7 L1091.3 236.9 L1093.3 237.1 L1095.3 237.4 L1097.3 237.6 L1099.3 237.8 L1101.2 238.0 L1103.2 238.2 L1105.2 238.4 L1107.2 238.6 L1109.2 238.7 L1111.2 238.9 L1113.2 239.1 L1115.2 239.3 L1117.2 239.4 L1119.2 239.6 L1121.2 239.8 L1123.2 239.9 L1125.1 240.1 L1127.1 240.3 L1129.1 240.4 L1131.1 240.6 L1133.1 240.8 L1135.1 240.9 L1137.1 241.1 L1139.1 241.3 L1151.0 249.9 L1164.7 257.5 L1184.0 264.3 L1197.7 285.0 L1216.9 296.0 L1236.2 315.2 L1249.9 326.2 L1266.4 359.1 L1280.1 350.9 L1291.0 344.0 L1307.5 359.1 L1318.5 385.2 L1329.5 408.5 L1337.7 409.9 L1351.4 412.6 L1362.4 436.0 L1376.2 430.5 L1396.8 441.5 L1404.8 457.3 L1418.0 447.7 L1427.6 457.3 L1457.7 465.0 L1474.5 464.0 L1496.2 471.5 L1518.0 476.0" stroke="#b57fdb"/>
<path d="M335.8 916.4 L337.8 916.3 L339.8 916.1 L341.8 916.0 L343.8 915.9 L345.8 915.7 L347.8 915.5 L349.8 915.4 L351.8 915.2 L353.7 915.0 L355.7 914.8 L357.7 914.6 L359.7 914.4 L361.7 914.2 L363.7 914.0 L365.7 913.8 L367.7 913.5 L369.6 913.3 L371.6 913.0 L373.6 912.8 L375.6 912.5 L377.6 912.3 L379.6 912.0 L381.5 911.7 L383.5 911.4 L385.5 911.1 L387.5 910.8 L389.5 910.5 L391.4 910.2 L393.4 909.9 L395.4 909.5 L397.3 909.2 L399.3 908.8 L401.3 908.5 L403.2 908.1 L405.2 907.8 L407.2 907.4 L409.1 907.0 L411.1 906.6 L413.1 906.2 L415.0 905.8 L417.0 905.4 L418.9 905.0 L420.9 904.6 L422.8 904.2 L424.8 903.7 L426.8 903.3 L428.7 902.8 L430.6 902.4 L432.6 901.9 L434.5 901.5 L436.5 901.0 L438.4 900.5 L440.4 900.0 L442.3 899.5 L444.2 899.0 L446.2 898.5 L448.1 898.0 L450.0 897.5 L452.0 897.0 L453.9 896.4 L455.8 895.9 L457.7 895.3 L459.7 894.8 L461.6 894.2 L463.5 893.7 L465.4 893.1 L467.3 892.5 L469.2 891.9 L471.2 891.3 L473.1 890.7 L475.0 890.1 L476.9 889.5 L478.8 888.9 L480.7 888.3 L482.6 887.7 L484.5 887.0 L486.4 886.4 L488.3 885.7 L490.2 885.1 L492.0 884.4 L493.9 883.8 L495.8 883.1 L497.7 882.4 L499.6 881.7 L501.4 881.0 L503.3 880.3 L505.2 879.6 L507.0 878.9 L508.9 878.1 L510.8 877.4 L512.6 876.6 L514.5 875.9 L516.3 875.1 L518.2 874.4 L520.0 873.6 L521.8 872.8 L523.7 872.0 L525.5 871.2 L527.3 870.4 L529.1 869.5 L531.0 868.7 L532.8 867.8 L534.6 867.0 L536.4 866.1 L538.2 865.2 L540.0 864.4 L541.8 863.5 L543.5 862.6 L545.3 861.7 L547.1 860.7 L548.9 859.8 L550.6 858.9 L552.4 857.9 L554.2 857.0 L555.9 856.0 L557.6 855.0 L559.4 854.0 L561.1 853.0 L562.8 852.0 L564.6 851.0 L566.3 849.9 L568.0 848.9 L569.7 847.9 L571.4 846.8 L573.1 845.7 L574.8 844.7 L576.4 843.6 L578.1 842.5 L579.8 841.4 L581.4 840.3 L583.1 839.1 L584.7 838.0 L586.4 836.8 L588.0 835.7 L589.6 834.5 L591.3 833.4 L592.9 832.2 L594.5 831.0 L596.1 829.8 L597.7 828.6 L599.3 827.4 L600.8 826.1 L602.4 824.9 L604.0 823.7 L605.5 822.4 L607.1 821.2 L608.6 819.9 L610.2 818.6 L611.7 817.3 L613.2 816.0 L614.7 814.7 L616.3 813.4 L617.8 812.1 L619.2 810.8 L620.7 809.4 L622.2 808.1 L623.7 806.7 L625.2 805.4 L626.6 804.0 L628.1 802.6 L629.5 801.2 L630.9 799.8 L632.4 798.4 L633.8 797.0 L635.2 795.6 L636.6 794.2 L638.0 792.8 L639.4 791.3 L640.8 789.9 L642.1 788.4 L643.5 786.9 L644.8 785.5 L646.2 784.0 L647.5 782.5 L648.9 781.0 L650.2 779.5 L651.5 778.0 L652.8 776.5 L654.1 775.0 L655.4 773.5 L656.7 771.9 L658.0 770.4 L659.3 768.9 L660.5 767.3 L661.8 765.8 L663.0 764.2 L664.3 762.6 L665.5 761.1 L666.7 759.5 L668.0 757.9 L669.2 756.3 L670.4 754.7 L671.6 753.1 L672.8 751.5 L673.9 749.9 L675.1 748.3 L676.3 746.6 L677.4 745.0 L678.6 743.4 L679.7 741.7 L680.9 740.1 L682.0 738.4 L683.1 736.8 L684.2 735.1 L685.3 733.4 L686.4 731.7 L687.5 730.1 L688.5 728.4 L689.6 726.7 L690.7 725.0 L691.7 723.3 L692.8 721.6 L693.8 719.9 L694.8 718.2 L695.8 716.4 L696.8 714.7 L697.8 713.0 L698.8 711.2 L699.8 709.5 L700.8 707.8 L701.8 706.0 L702.8 704.3 L703.7 702.5 L704.7 700.8 L705.6 699.0 L706.5 697.2 L707.5 695.4 L708.4 693.7 L709.3 691.9 L710.2 690.1 L711.1 688.3 L712.0 686.5 L712.9 684.7 L713.8 682.9 L714.6 681.1 L715.5 679.3 L716.4 677.5 L717.2 675.7 L718.1 673.9 L719.0 672.1 L719.8 670.3 L720.7 668.5 L721.5 666.7 L722.3 664.9 L723.2 663.1 L724.0 661.2 L724.8 659.4 L725.6 657.6 L726.4 655.8 L727.2 653.9 L728.1 652.1 L728.9 650.3 L729.7 648.4 L730.4 646.6 L731.2 644.8 L732.0 642.9 L732.8 641.1 L733.5 639.2 L734.3 637.4 L735.1 635.5 L735.8 633.7 L736.5 631.8 L737.2 629.9 L738.0 628.1 L738.7 626.2 L739.4 624.3 L740.1 622.4 L740.7 620.6 L741.4 618.7 L742.1 616.8 L742.8 614.9 L743.4 613.0 L744.1 611.1 L744.7 609.2 L745.4 607.3 L746.0 605.5 L746.6 603.6 L747.3 601.7 L747.9 599.8 L748.5 597.9 L749.1 596.0 L749.8 594.1 L750.4 592.2 L751.0 590.3 L751.6 588.3 L752.2 586.4 L752.8 584.5 L753.4 582.6 L754.0 580.7 L754.6 578.8 L755.2 576.9 L755.7 575.0 L756.3 573.1 L756.9 571.1 L757.5 569.2 L758.0 567.3 L758.6 565.4 L759.1 563.5 L759.7 561.5 L760.3 559.6 L760.8 557.7 L761.4 555.8 L761.9 553.9 L762.4 551.9 L763.0 550.0 L763.5 548.1 L764.0 546.1 L764.6 544.2 L765.1 542.3 L765.6 540.4 L766.1 538.4 L766.7 536.5 L767.2 534.6 L767.7 532.6 L768.2 530.7 L768.7 528.8 L769.2 526.8 L769.7 524.9 L770.2 523.0 L770.7 521.0 L771.2 519.1 L771.7 517.1 L772.2 515.2 L772.6 513.3 L773.1 511.3 L773.6 509.4 L774.1 507.4 L774.6 505.5 L775.0 503.5 L775.5 501.6 L776.0 499.7 L776.4 497.7 L776.9 495.8 L777.4 493.8 L777.8 491.9 L778.3 489.9 L778.7 488.0 L779.2 486.0 L779.7 484.1 L780.1 482.1 L780.6 480.2 L781.0 478.2 L781.5 476.3 L781.9 474.3 L782.3 472.4 L782.8 470.4 L783.2 468.5 L783.7 466.5 L784.1 464.6 L784.5 462.6 L785.0 460.7 L785.4 458.7 L785.8 456.8 L786.3 454.8 L786.7 452.9 L787.1 450.9 L787.6 449.0 L788.0 447.0 L788.4 445.1 L788.8 443.1 L789.3 441.1 L789.7 439.2 L790.1 437.2 L790.5 435.3 L790.9 433.3 L791.4 431.4 L791.8 429.4 L792.2 427.5 L792.6 425.5 L793.0 423.6 L793.5 421.6 L793.9 419.6 L794.3 417.7 L794.7 415.7 L795.1 413.8 L795.5 411.8 L796.0 409.9 L796.4 407.9 L796.8 405.9 L797.2 404.0 L797.6 402.0 L798.0 400.1 L798.4 398.1 L798.9 396.2 L799.3 394.2 L799.7 392.2 L800.1 390.3 L800.5 388.3 L800.9 386.4 L801.4 384.4 L801.8 382.5 L802.2 380.5 L802.6 378.6 L803.0 376.6 L803.5 374.6 L803.9 372.7 L804.3 370.7 L804.7 368.8 L805.1 366.8 L805.6 364.9 L806.0 362.9 L806.4 361.0 L806.8 359.0 L807.3 357.1 L807.7 355.1 L808.1 353.1 L808.5 351.2 L809.0 349.2 L809.4 347.3 L809.8 345.3 L810.3 343.4 L810.7 341.4 L811.1 339.5 L811.6 337.5 L812.0 335.6 L812.5 333.6 L812.9 331.7 L813.4 329.7 L813.8 327.8 L814.2 325.8 L814.7 323.9 L815.1 321.9 L815.6 320.0 L816.1 318.0 L816.5 316.1 L817.0 314.1 L817.4 312.2 L817.9 310.2 L818.4 308.3 L818.8 306.4 L819.3 304.4 L819.8 302.5 L820.2 300.5 L820.7 298.6 L821.2 296.6 L821.6 294.7 L822.1 292.7 L822.6 290.8 L823.1 288.9 L823.5 286.9 L824.0 285.0 L824.5 283.0 L825.0 281.1 L825.5 279.2 L826.0 277.2 L826.6 275.3 L827.2 273.4 L827.9 271.6 L828.7 269.8 L829.5 268.0 L830.5 266.2 L831.4 264.5 L832.5 262.8 L833.6 261.2 L834.7 259.5 L835.8 257.8 L836.9 256.2 L838.1 254.6 L839.3 253.0 L840.5 251.5 L841.8 250.0 L843.2 248.6 L844.7 247.3 L846.3 246.2 L847.9 245.1 L849.6 244.1 L851.4 243.3 L853.2 242.5 L855.1 241.9 L857.0 241.3 L858.9 240.8 L860.8 240.3 L862.8 239.9 L864.7 239.5 L866.7 239.2 L868.7 238.9 L870.7 238.6 L872.7 238.4 L874.6 238.2 L876.6 238.0 L878.6 237.9 L880.6 237.8 L882.6 237.6 L884.6 237.5 L886.6 237.4 L888.6 237.2 L890.6 237.1 L892.6 236.9 L894.6 236.8 L896.6 236.6 L898.6 236.5 L900.6 236.3 L902.6 236.2 L904.6 236.0 L906.6 235.9 L908.5 235.8 L910.5 235.6 L912.5 235.5 L914.5 235.4 L916.5 235.2 L918.5 235.1 L920.5 235.0 L922.5 234.9 L924.5 234.8 L926.5 234.7 L928.5 234.6 L930.5 234.6 L932.5 234.5 L934.5 234.4 L936.5 234.3 L938.5 234.3 L940.5 234.2 L942.5 234.1 L944.5 234.0 L946.5 234.0 L948.5 233.9 L950.5 233.8 L952.5 233.7 L954.5 233.6 L956.5 233.5 L958.5 233.4 L960.5 233.3 L962.5 233.2 L964.5 233.1 L966.5 233.0 L968.5 232.8 L970.5 232.7 L972.5 232.6 L974.5 232.4 L976.5 232.3 L978.4 232.1 L980.4 232.0 L982.4 231.8 L984.4 231.7 L986.4 231.6 L988.4 231.4 L990.4 231.3 L992.4 231.1 L994.4 231.0 L996.4 230.9 L998.4 230.7 L1000.4 230.6 L1002.4 230.5 L1004.4 230.4 L1006.4 230.3 L1008.4 230.2 L1010.4 230.1 L1012.4 230.0 L1014.4 229.9 L1016.4 229.9 L1018.4 229.8 L1020.4 229.8 L1022.4 229.8 L1024.4 229.8 L1026.4 229.8 L1028.4 229.8 L1030.4 229.8 L1032.4 229.9 L1034.4 229.9 L1036.4 230.0 L1038.4 230.1 L1040.4 230.1 L1042.4 230.2 L1044.4 230.3 L1046.4 230.4 L1048.4 230.6 L1050.3 230.7 L1052.3 230.9 L1054.3 231.0 L1056.3 231.2 L1058.3 231.4 L1060.3 231.6 L1062.3 231.8 L1064.3 232.0 L1066.3 232.2 L1068.3 232.4 L1070.2 232.7 L1072.2 232.9 L1074.2 233.1 L1076.2 233.3 L1078.2 233.6 L1080.2 233.8 L1082.2 234.0 L1084.2 234.3 L1086.1 234.5 L1088.1 234.7 L1090.1 235.0 L1092.1 235.2 L1094.1 235.4 L1096.1 235.7 L1098.1 235.9 L1100.0 236.1 L1102.0 236.3 L1104.0 236.5 L1106.0 236.7 L1108.0 237.0 L1110.0 237.2 L1112.0 237.4 L1114.0 237.6 L1116.0 237.8 L1117.9 238.0 L1119.9 238.2 L1121.9 238.4 L1123.9 238.6 L1125.9 238.9 L1127.9 239.1 L1129.9 239.3 L1131.9 239.6 L1133.8 239.8 L1135.8 240.0 L1137.8 240.2 L1139.8 240.5 L1153.7 243.7 L1167.5 252.0 L1185.3 258.8 L1201.8 271.2 L1215.5 276.7 L1229.3 290.4 L1249.9 313.8 L1270.5 328.9 L1280.1 337.1 L1288.2 354.9 L1293.7 367.3 L1304.7 367.3 L1310.2 385.2 L1334.9 389.3 L1343.2 404.4 L1367.9 404.4 L1384.4 411.5 L1419.2 464.5 L1436.1 468.1 L1457.7 476.5 L1468.5 471.7 L1484.1 475.3 L1502.2 476.5 L1518.0 480.7" stroke="#4259a5"/>
</g>
<rect x="844" y="671.5" width="841.7" height="290" fill="#fff" stroke="#000" stroke-width="4"/>
<line x1="854" y1="722.9" x2="1023.5" y2="722.9" stroke="#89bf5d" stroke-width="9" stroke-linecap="round"/>
<line x1="1303.6" y1="722.9" x2="1473.1" y2="722.9" stroke="#7f7f7f" stroke-width="9" stroke-linecap="round"/>
<line x1="854" y1="817.5" x2="1023.5" y2="817.5" stroke="#d4363a" stroke-width="9" stroke-linecap="round"/>
<line x1="1303.6" y1="817.5" x2="1473.1" y2="817.5" stroke="#b57fdb" stroke-width="9" stroke-linecap="round"/>
<line x1="854" y1="910.6" x2="1023.5" y2="910.6" stroke="#4259a5" stroke-width="9" stroke-linecap="round"/>
<g font-family="Liberation Serif, serif" font-size="76" fill="#000">
<text x="1042.0 1081.0 1123.3 1160.3" y="747.2">α=8°</text>
<text x="1042.2 1081.0 1122.1 1159.2 1198.9 1216.2 1254.9" y="841.7">α=13.5°</text>
<text x="1042.5 1081.0 1123.2 1161.0 1197.8" y="936.0">α=20°</text>
<text x="1492.3 1530.3 1570.8 1610.1 1647.6" y="747.2">α=10°</text>
<text x="1492.3 1530.3 1570.8 1609.6 1647.6" y="841.7">α=16°</text>
</g>
<line x1="401.09" y1="979.0" x2="401.09" y2="960.40" stroke="#000" stroke-width="7.7"/>
<line x1="587.06" y1="979.0" x2="587.06" y2="960.40" stroke="#000" stroke-width="7.7"/>
<line x1="773.03" y1="979.0" x2="773.03" y2="960.40" stroke="#000" stroke-width="7.7"/>
<line x1="959.00" y1="979.0" x2="959.00" y2="960.40" stroke="#000" stroke-width="7.7"/>
<line x1="1144.97" y1="979.0" x2="1144.97" y2="960.40" stroke="#000" stroke-width="7.7"/>
<line x1="1330.94" y1="979.0" x2="1330.94" y2="960.40" stroke="#000" stroke-width="7.7"/>
<line x1="1516.91" y1="979.0" x2="1516.91" y2="960.40" stroke="#000" stroke-width="7.7"/>
<line x1="214.7" y1="793.68" x2="233.70" y2="793.68" stroke="#000" stroke-width="8"/>
<line x1="214.7" y1="607.47" x2="233.70" y2="607.47" stroke="#000" stroke-width="8"/>
<line x1="214.7" y1="421.25" x2="233.70" y2="421.25" stroke="#000" stroke-width="8"/>
<line x1="214.7" y1="235.04" x2="233.70" y2="235.04" stroke="#000" stroke-width="8"/>
<rect x="214.7" y="49.4" width="1489.30" height="929.60" fill="none" stroke="#000" stroke-width="8.2"/>
<g font-family="Liberation Serif, serif" font-size="78" fill="#000">
<text x="194.1" y="997.20" text-anchor="end">0</text>
<text x="194.1" y="810.98" text-anchor="end">50</text>
<text x="194.1" y="624.77" text-anchor="end">100</text>
<text x="194.1" y="438.56" text-anchor="end">150</text>
<text x="194.1" y="252.34" text-anchor="end">200</text>
<text x="194.1" y="66.13" text-anchor="end">250</text>
<text x="215.12" y="1068" text-anchor="middle">−40</text>
<text x="401.09" y="1068" text-anchor="middle">−30</text>
<text x="587.06" y="1068" text-anchor="middle">−20</text>
<text x="773.03" y="1068" text-anchor="middle">−10</text>
<text x="959.00" y="1068" text-anchor="middle">0</text>
<text x="1144.97" y="1068" text-anchor="middle">10</text>
<text x="1330.94" y="1068" text-anchor="middle">20</text>
<text x="1516.91" y="1068" text-anchor="middle">30</text>
<text x="1702.88" y="1068" text-anchor="middle">40</text>
</g>
<g font-family="Liberation Serif, serif" font-size="75" fill="#000">
<text x="958" y="1136.6" text-anchor="middle">Axial distance (mm)</text>
<text transform="translate(66.5 514.5) rotate(-90)" text-anchor="middle">Axial velocity (m/s)</text>
</g>
</svg>
</body></html>
